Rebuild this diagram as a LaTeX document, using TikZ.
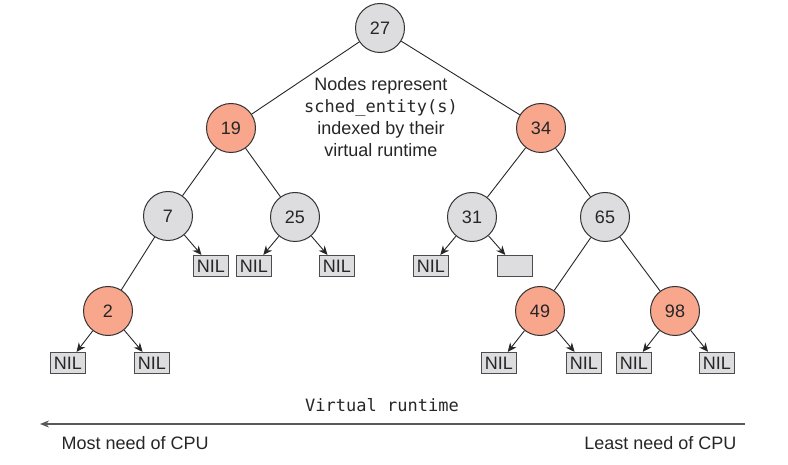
\documentclass[tikz,border=0pt]{standalone}
\usepackage{fontspec}
\setmainfont{Liberation Sans}
\setmonofont{DejaVu Sans Mono}
\usepackage{xcolor}
\usepackage{tikz}
\usetikzlibrary{arrows.meta}
\definecolor{rbsalmon}{RGB}{248,166,140}
\definecolor{rbgray}{RGB}{221,221,223}
\begin{document}
\begin{tikzpicture}[x=1pt, y=-1pt, font=\fontsize{18}{22}\selectfont, text=black!85,
  rbnode/.style={circle, draw=black!80, line width=1pt, minimum size=49pt, inner sep=0pt},
  rednode/.style={rbnode, fill=rbsalmon},
  blacknode/.style={rbnode, fill=rbgray},
  nil/.style={draw=black!70, fill=rbgray, line width=1.2pt, minimum width=35pt, minimum height=21pt, inner sep=0pt},
  link/.style={line width=0.9pt, black!85},
  arr/.style={-{Stealth[length=9pt,width=8pt]}, line width=0.9pt, black!85},
  timeline/.style={-{Stealth[length=9pt,width=7pt]}, line width=2pt, black!65}]
  \useasboundingbox (0,0) rectangle (788,465);
  \node[blacknode] (n27) at (380,28) {27};
  \node[rednode] (n19) at (231,128) {19};
  \node[rednode] (n34) at (541,128) {34};
  \node[blacknode] (n7) at (168,216) {7};
  \node[blacknode] (n25) at (295,217) {25};
  \node[blacknode] (n31) at (472,217) {31};
  \node[blacknode] (n65) at (605,217) {65};
  \node[rednode] (n2) at (108,311) {2};
  \node[rednode] (n49) at (540,311) {49};
  \node[rednode] (n98) at (675,311) {98};
  \node[nil] (nil7) at (211,266) {NIL};
  \node[nil] (nil25a) at (254,266) {NIL};
  \node[nil] (nil25b) at (337,266) {NIL};
  \node[nil] (nil31) at (431,266) {NIL};
  \node[nil] (empty31) at (515,266) {};
  \node[nil] (nil2a) at (68,363) {NIL};
  \node[nil] (nil2b) at (152,363) {NIL};
  \node[nil] (nil49a) at (499,363) {NIL};
  \node[nil] (nil49b) at (584,363) {NIL};
  \node[nil] (nil98a) at (634,363) {NIL};
  \node[nil] (nil98b) at (717,363) {NIL};
  \draw[link] (n27)--(n19); \draw[link] (n27)--(n34);
  \draw[link] (n19)--(n7); \draw[link] (n19)--(n25);
  \draw[link] (n34)--(n31); \draw[link] (n34)--(n65);
  \draw[link] (n7)--(n2); \draw[link] (n65)--(n49); \draw[link] (n65)--(n98);
  \draw[arr] (n7)--(nil7);
  \draw[arr] (n25)--(nil25a); \draw[arr] (n25)--(nil25b);
  \draw[arr] (n31)--(nil31); \draw[arr] (n31)--(empty31);
  \draw[arr] (n2)--(nil2a); \draw[arr] (n2)--(nil2b);
  \draw[arr] (n49)--(nil49a); \draw[arr] (n49)--(nil49b);
  \draw[arr] (n98)--(nil98a); \draw[arr] (n98)--(nil98b);
  \node[align=center] (note) at (381,117) {Nodes represent\\{\ttfamily\fontsize{17}{22}\selectfont sched\_entity(s)}\\indexed by their\\virtual runtime};
  \node[font=\fontsize{17}{20}\ttfamily] (vr) at (382,405) {Virtual runtime};
  \coordinate (tr) at (745,424);
  \coordinate (tl) at (40,424);
  \draw[timeline] (tr)--(tl);
  \node[anchor=west] (most) at (58,443) {Most need of CPU};
  \node[anchor=east] (least) at (740,443) {Least need of CPU};
\end{tikzpicture}
\end{document}
